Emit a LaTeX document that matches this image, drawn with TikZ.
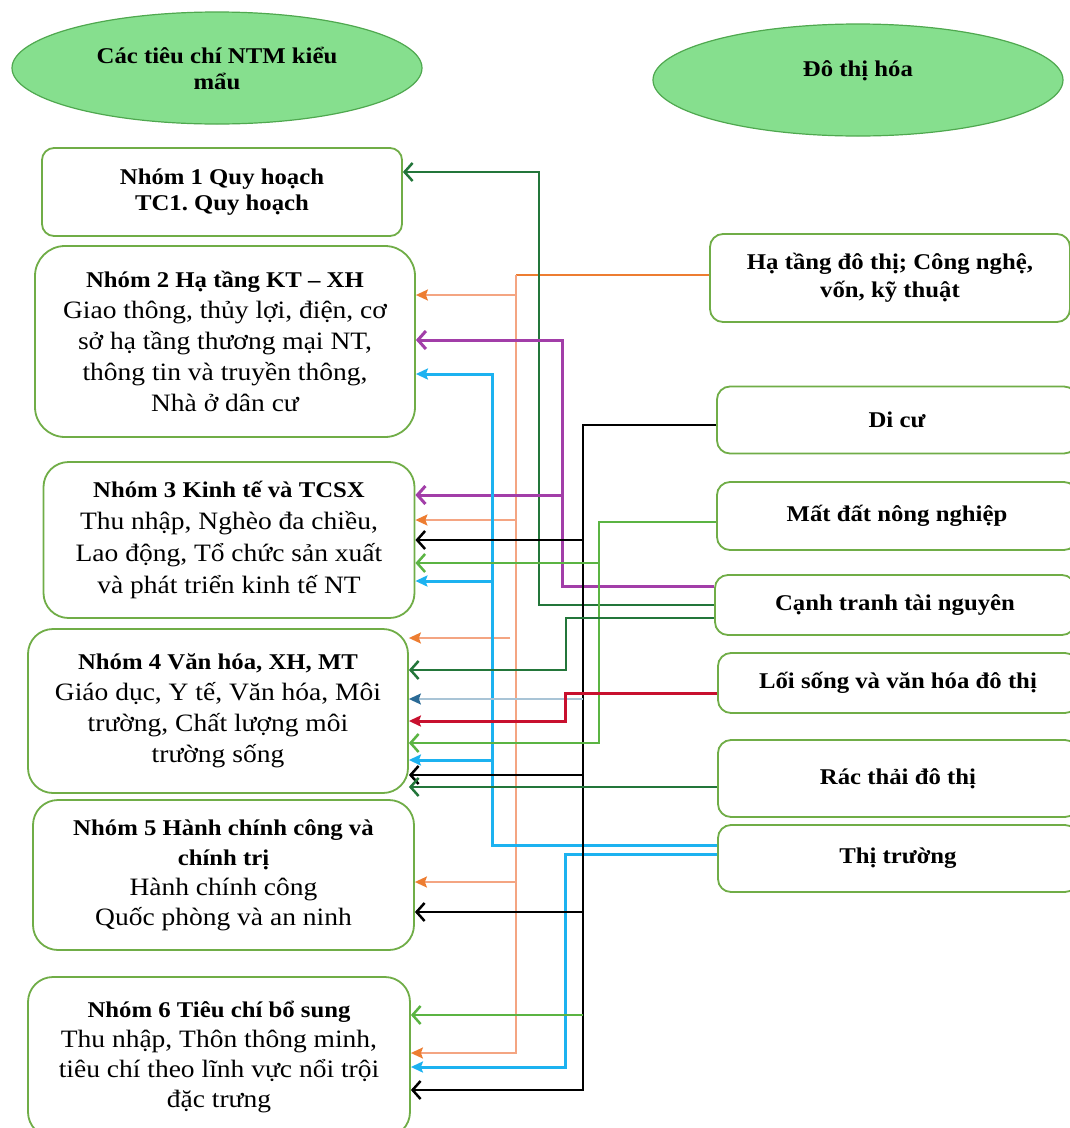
\documentclass[tikz,border=0pt]{standalone}
\usepackage{fontspec}
\setmainfont{Liberation Serif}[FakeStretch=1.1]
\usetikzlibrary{arrows.meta,shapes.geometric}
\frenchspacing
\definecolor{boxg}{HTML}{70AD47}
\definecolor{ellf}{HTML}{86DF8E}
\definecolor{elld}{HTML}{4FA84F}
\definecolor{dkg}{HTML}{23763A}
\definecolor{lgr}{HTML}{5BB443}
\definecolor{pur}{HTML}{A23EA8}
\definecolor{cya}{HTML}{1CB2F0}
\definecolor{orgL}{HTML}{F4A582}
\definecolor{orgD}{HTML}{ED7D31}
\definecolor{redc}{HTML}{C8102E}
\definecolor{stlL}{HTML}{A9C4D6}
\definecolor{stlD}{HTML}{2A6A96}
\newcommand\hdline[1]{{\fontsize{22.5}{31}\selectfont\bfseries #1}}
\begin{document}
\begin{tikzpicture}[x=1pt,y=-1pt,
  box/.style={draw=boxg, line width=1.8pt, fill=white, align=center, inner sep=0pt,
    font=\fontsize{25}{31}\selectfont},
  rbox/.style={box, rounded corners=13pt, minimum width=360pt},
  ell/.style={ellipse, draw=elld, line width=1.2pt, fill=ellf, inner sep=0pt},
  tipO/.style={-{Straight Barb[length=8pt,width=18pt]}},
  tipF/.style={-{Stealth[length=12pt,width=11pt,inset=2pt]}},
  cdkg/.style={draw=dkg, line width=2.5pt, tipO},
  clg/.style={draw=lgr, line width=2.5pt, tipO},
  cpur/.style={draw=pur, line width=3pt, tipO},
  cblk/.style={draw=black, line width=2.5pt, tipO},
  ccy/.style={draw=cya, line width=3pt, tipF},
  corg/.style={draw=orgL, line width=1.8pt, -{Stealth[length=12pt,width=11pt,inset=2pt,color=orgD]}},
  cred/.style={draw=redc, line width=3pt, tipF},
  cstl/.style={draw=stlL, line width=1.6pt, -{Stealth[length=12pt,width=11pt,inset=2pt,color=stlD]}},
]
\useasboundingbox (0,0) rectangle (1070,1128);
\fill[white] (0,0) rectangle (1070,1128);

% ellipses
\node[ell, minimum width=410pt, minimum height=112pt, align=center,
  font=\fontsize{22.5}{26}\selectfont\bfseries] (E1) at (217,68) {Các tiêu chí NTM kiểu\\mẩu};
\node[ell, minimum width=410pt, minimum height=112pt] (E2) at (858,80) {};
\node[font=\fontsize{22.5}{26}\selectfont\bfseries] (E2t) at (858,71) {Đô thị hóa};

% left boxes
\node[box, rounded corners=12pt, minimum width=360pt, minimum height=88pt,
  font=\fontsize{22.5}{26}\selectfont\bfseries] (B1) at (222,192)
  {Nhóm 1 Quy hoạch\\TC1. Quy hoạch};
\node[box, rounded corners=30pt, minimum width=380pt, minimum height=191pt] (B2) at (225,341.5)
  {\hdline{Nhóm 2 Hạ tầng KT – XH}\\Giao thông, thủy lợi, điện, cơ\\sở hạ tầng thương mại NT,\\thông tin và truyền thông,\\Nhà ở dân cư};
\node[box, rounded corners=25pt, minimum width=371pt, minimum height=156pt,
  font=\fontsize{25}{32}\selectfont] (B3) at (229,540)
  {\hdline{Nhóm 3 Kinh tế và TCSX}\\Thu nhập, Nghèo đa chiều,\\Lao động, Tổ chức sản xuất\\và phát triển kinh tế NT};
\node[box, rounded corners=25pt, minimum width=380pt, minimum height=164pt] (B4) at (218,711)
  {\hdline{Nhóm 4 Văn hóa, XH, MT}\\Giáo dục, Y tế, Văn hóa, Môi\\trường, Chất lượng môi\\trường sống};
\node[box, rounded corners=25pt, minimum width=381pt, minimum height=150pt,
  font=\fontsize{25}{30}\selectfont] (B5) at (223.5,875)
  {\hdline{Nhóm 5 Hành chính công và}\\\hdline{chính trị}\\Hành chính công\\Quốc phòng và an ninh};
\node[box, rounded corners=25pt, minimum width=382pt, minimum height=160pt,
  font=\fontsize{25}{30}\selectfont] (B6) at (219,1057)
  {\hdline{Nhóm 6 Tiêu chí bổ sung}\\Thu nhập, Thôn thông minh,\\tiêu chí theo lĩnh vực nổi trội\\đặc trưng};

% right boxes
\node[rbox, minimum height=88pt, font=\fontsize{22.5}{28}\selectfont\bfseries] (R1) at (890,278)
  {Hạ tầng đô thị; Công nghệ,\\vốn, kỹ thuật};
\node[rbox, minimum height=67pt, font=\fontsize{22.5}{28}\selectfont\bfseries] (R2) at (897,420) {Di cư};
\node[rbox, minimum height=68pt, font=\fontsize{22.5}{28}\selectfont\bfseries] (R3) at (897,516) {Mất đất nông nghiệp};
\node[rbox, minimum height=60pt, font=\fontsize{22.5}{28}\selectfont\bfseries] (R4) at (895,605) {Cạnh tranh tài nguyên};
\node[rbox, minimum height=60pt, font=\fontsize{22.5}{28}\selectfont\bfseries] (R5) at (898,683) {Lối sống và văn hóa đô thị};
\node[rbox, minimum height=77pt, font=\fontsize{22.5}{28}\selectfont\bfseries] (R6) at (898,778.5) {Rác thải đô thị};
\node[rbox, minimum height=67pt, font=\fontsize{22.5}{28}\selectfont\bfseries] (R7) at (898,858.5) {Thị trường};

% trunk coordinates
\coordinate (oT) at (516,275);
\coordinate (kT) at (583,425);

% orange (R1)
\draw[draw=orgD, line width=1.8pt] (R1.west |- 0,275) -- (oT);
\draw[corg] (oT) -- (516,1053) -- (B6.east |- 0,1053);
\draw[corg] (516,295) -- (B2.east |- 0,295);
\draw[corg] (516,520) -- (B3.east |- 0,520);
\draw[corg] (510,638) -- (B4.east |- 0,638);
\draw[corg] (516,882) -- (B5.east |- 0,882);

% dark green (R4) to B1
\draw[cdkg] (R4.west |- 0,605) -| (539,172) -- (B1.east |- 0,172);
% purple (R4)
\draw[cpur] (R4.west |- 0,586) -| (562,340) -- (B2.east |- 0,340);
\draw[cpur] (562,495) -- (B3.east |- 0,495);
% cyan (R7)
\draw[ccy] (R7.west |- 0,845) -| (492,374) -- (B2.east |- 0,374);
\draw[ccy] (492,581) -- (B3.east |- 0,581);
\draw[ccy] (492,760) -- (B4.east |- 0,760);
\draw[ccy] (R7.west |- 0,854) -| (565,1067) -- (B6.east |- 0,1067);
% black (R2)
\draw[cblk] (R2.west |- 0,425) -- (kT) -- (583,1090) -- (B6.east |- 0,1090);
\draw[cblk] (583,540) -- (B3.east |- 0,540);
\draw[cblk] (583,775) -- (B4.east |- 0,775);
\draw[cblk] (583,912) -- (B5.east |- 0,912);
\draw[cstl] (583,699) -- (B4.east |- 0,699);
\draw[clg] (583,1015) -- (B6.east |- 0,1015);
% light green (R3)
\draw[clg] (R3.west |- 0,522) -| (599,743) -- (B4.east |- 0,743);
\draw[clg] (599,563) -- (B3.east |- 0,563);
% dark green (R4) to B4
\draw[cdkg] (R4.west |- 0,618) -| (566,670) -- (B4.east |- 0,670);
% red (R5)
\draw[cred] (R5.west |- 0,693) -| (565,721) -- (B4.east |- 0,721);
% dark green (R6)
\draw[cdkg] (R6.west |- 0,787) -- (B4.east |- 0,787);
\end{tikzpicture}
\end{document}
